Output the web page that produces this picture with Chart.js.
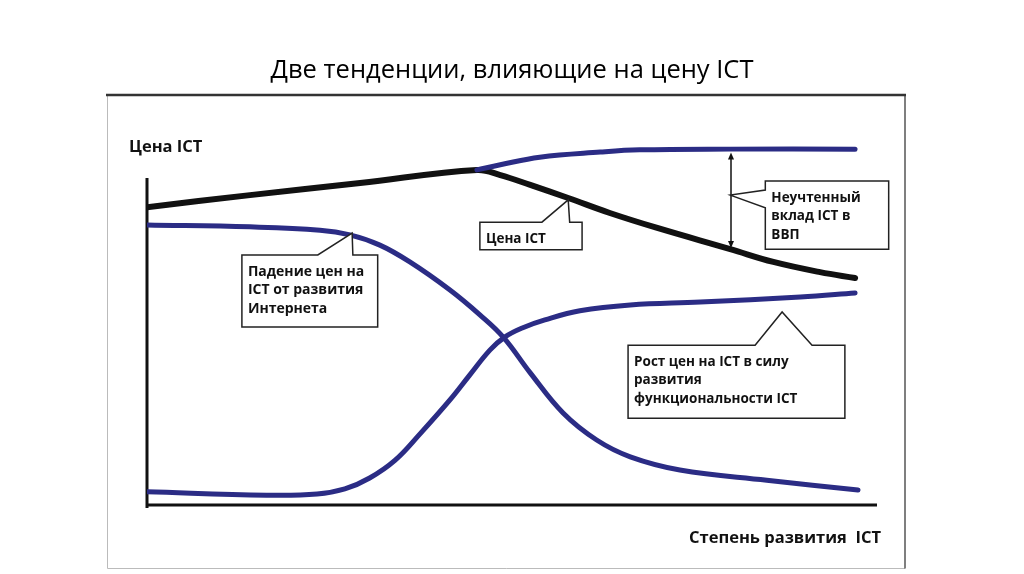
<!DOCTYPE html>
<html>
<head>
<meta charset="utf-8">
<script src="https://cdn.jsdelivr.net/npm/chart.js@4"></script>
<style>
  html, body { margin: 0; padding: 0; background: #fff; }
  canvas { display: block; }
</style>
</head>
<body>
<canvas id="chart" width="1024" height="574"></canvas>
<script>
// curves, x = степень развития (0..100), y = цена (0..100)
const priceX   = [0, 14.1, 29.2, 45.2, 48.4, 52.5, 57.7, 63.4, 69.9, 79.9, 85.8, 92.2, 97.0];
const priceY   = [81.6, 84.9, 88.2, 91.8, 90.4, 87.7, 84.1, 80.0, 75.9, 70.1, 66.6, 63.8, 62.2];
const topX     = [45.2, 48.4, 53.8, 62.1, 67.5, 79.9, 97.0];
const topY     = [91.8, 93.2, 95.3, 96.7, 97.3, 97.5, 97.5];
const fallX    = [0, 14.1, 23.7, 27.8, 31.9, 36.0, 41.5, 45.6, 48.8, 52.5, 57.0, 61.6, 66.2, 73.0, 84.9, 97.4];
const fallY    = [76.7, 76.2, 75.3, 74.0, 71.2, 66.6, 58.9, 52.1, 46.0, 36.2, 25.2, 17.8, 13.2, 9.6, 6.8, 4.1];
const riseX    = [0, 16.4, 23.3, 27.1, 30.5, 34.0, 37.4, 41.5, 44.2, 47.0, 49.0, 51.4, 54.5, 59.3, 66.2, 75.8, 89.5, 97.0];
const riseY    = [3.6, 2.7, 3.0, 4.4, 7.4, 12.3, 19.5, 28.8, 35.6, 42.5, 46.0, 48.5, 50.7, 53.2, 54.8, 55.6, 57.0, 58.1];

const title = 'Две тенденции, влияющие на цену ICT';
const yLabel = 'Цена ICT';
const xLabel = 'Степень развития  ICT';

const BLUE = '#2b2c85';
const INK = '#111';

const pts = (xs, ys) => xs.map((x, i) => ({ x, y: ys[i] }));

// callouts in data units: box [left, right, top, bottom], pointer
const callouts = [
  { lines: ['Падение цен на', 'ICT от развития', 'Интернета'], size: 14,
    box: [13.0, 31.6, 68.5, 48.8], side: 'top', apex: [28.1, 74.5], base: [23.4, 28.2] },
  { lines: ['Цена ICT'], size: 13.5,
    box: [45.6, 59.6, 77.5, 69.9], side: 'top', apex: [57.7, 83.6], base: [54.1, 57.9] },
  { lines: ['Неучтенный', 'вклад ICT в', 'ВВП'], size: 13.5,
    box: [84.7, 101.6, 88.8, 70.1], side: 'left', apex: [79.9, 84.9], base: [86.3, 81.4] },
  { lines: ['Рост цен на ICT в силу', 'развития', 'функциональности ICT'], size: 13.5,
    box: [65.9, 95.6, 43.8, 23.8], side: 'top', apex: [87.0, 52.9], base: [83.3, 91.1] }
];
const gapArrow = { x: 80.0, top: 96.6, bottom: 70.4 };

const decor = {
  id: 'decor',
  beforeDraw(chart) {
    const c = chart.ctx;
    c.save();
    c.fillStyle = '#fff';
    c.fillRect(0, 0, chart.width, chart.height);
    // title
    c.fillStyle = '#000';
    c.font = '25.5px "Open Sans", sans-serif';
    c.textAlign = 'center';
    c.textBaseline = 'middle';
    c.fillText(title, 512, 71);
    // frame
    c.lineWidth = 1;
    c.strokeStyle = '#bbb';
    c.beginPath(); c.moveTo(107.5, 95); c.lineTo(107.5, 568.5); c.lineTo(905, 568.5); c.stroke();
    c.strokeStyle = '#555';
    c.lineWidth = 1.5;
    c.beginPath(); c.moveTo(905, 95); c.lineTo(905, 568.5); c.stroke();
    c.strokeStyle = '#333';
    c.lineWidth = 2.5;
    c.beginPath(); c.moveTo(106, 95); c.lineTo(906, 95); c.stroke();
    c.restore();
  },
  beforeDatasetsDraw(chart) {
    const c = chart.ctx, x = chart.scales.x, y = chart.scales.y;
    c.save();
    c.strokeStyle = INK;
    c.lineWidth = 3;
    c.beginPath();
    c.moveTo(x.getPixelForValue(0), y.getPixelForValue(89.6));
    c.lineTo(x.getPixelForValue(0), y.getPixelForValue(-0.8));
    c.moveTo(x.getPixelForValue(0), y.getPixelForValue(0));
    c.lineTo(x.getPixelForValue(100), y.getPixelForValue(0));
    c.stroke();
    c.fillStyle = INK;
    c.font = 'bold 16.5px "Open Sans", sans-serif';
    c.textBaseline = 'middle';
    c.textAlign = 'left';
    c.fillText(yLabel, 129, 147);
    c.textAlign = 'right';
    c.fillText(xLabel, 881, 538);
    c.restore();
  },
  afterDatasetsDraw(chart) {
    const c = chart.ctx, xs = chart.scales.x, ys = chart.scales.y;
    const px = v => xs.getPixelForValue(v), py = v => ys.getPixelForValue(v);
    c.save();
    // double arrow between top curve and price curve
    const ax = px(gapArrow.x), at = py(gapArrow.top), ab = py(gapArrow.bottom);
    c.strokeStyle = INK; c.fillStyle = INK; c.lineWidth = 1.5;
    c.beginPath(); c.moveTo(ax, at + 4); c.lineTo(ax, ab - 4); c.stroke();
    c.beginPath(); c.moveTo(ax, at); c.lineTo(ax - 3, at + 7); c.lineTo(ax + 3, at + 7); c.closePath(); c.fill();
    c.beginPath(); c.moveTo(ax, ab); c.lineTo(ax - 3, ab - 7); c.lineTo(ax + 3, ab - 7); c.closePath(); c.fill();

    callouts.forEach(o => {
      const l = px(o.box[0]), r = px(o.box[1]), t = py(o.box[2]), b = py(o.box[3]);
      c.beginPath();
      if (o.side === 'top') {
        c.moveTo(l, t);
        c.lineTo(px(o.base[0]), t);
        c.lineTo(px(o.apex[0]), py(o.apex[1]));
        c.lineTo(px(o.base[1]), t);
        c.lineTo(r, t);
        c.lineTo(r, b); c.lineTo(l, b); c.closePath();
      } else {
        c.moveTo(l, t); c.lineTo(r, t); c.lineTo(r, b); c.lineTo(l, b);
        c.lineTo(l, py(o.base[1]));
        c.lineTo(px(o.apex[0]), py(o.apex[1]));
        c.lineTo(l, py(o.base[0]));
        c.closePath();
      }
      c.fillStyle = '#fff';
      c.fill();
      c.strokeStyle = '#222';
      c.lineWidth = 1.5;
      c.stroke();
      c.fillStyle = INK;
      c.font = 'bold ' + o.size + 'px "Open Sans", sans-serif';
      c.textAlign = 'left';
      c.textBaseline = 'middle';
      o.lines.forEach((s, i) => c.fillText(s, l + 6, t + 17 + i * 18.5));
    });
    c.restore();
  }
};

new Chart(document.getElementById('chart'), {
  type: 'line',
  data: {
    datasets: [
      { label: 'rise', data: pts(riseX, riseY), borderColor: BLUE, borderWidth: 5 },
      { label: 'fall', data: pts(fallX, fallY), borderColor: BLUE, borderWidth: 5 },
      { label: 'top', data: pts(topX, topY), borderColor: BLUE, borderWidth: 5 },
      { label: 'price', data: pts(priceX, priceY), borderColor: INK, borderWidth: 6 }
    ]
  },
  options: {
    responsive: false,
    animation: false,
    devicePixelRatio: 1,
    layout: { padding: { left: 147, right: 147, top: 140, bottom: 69 } },
    elements: {
      point: { radius: 0 },
      line: { tension: 0.4, borderCapStyle: 'round', borderJoinStyle: 'round', fill: false }
    },
    scales: {
      x: { type: 'linear', min: 0, max: 100, display: false },
      y: { min: 0, max: 100, display: false }
    },
    plugins: { legend: { display: false }, tooltip: { enabled: false } }
  },
  plugins: [decor]
});
</script>
</body>
</html>
